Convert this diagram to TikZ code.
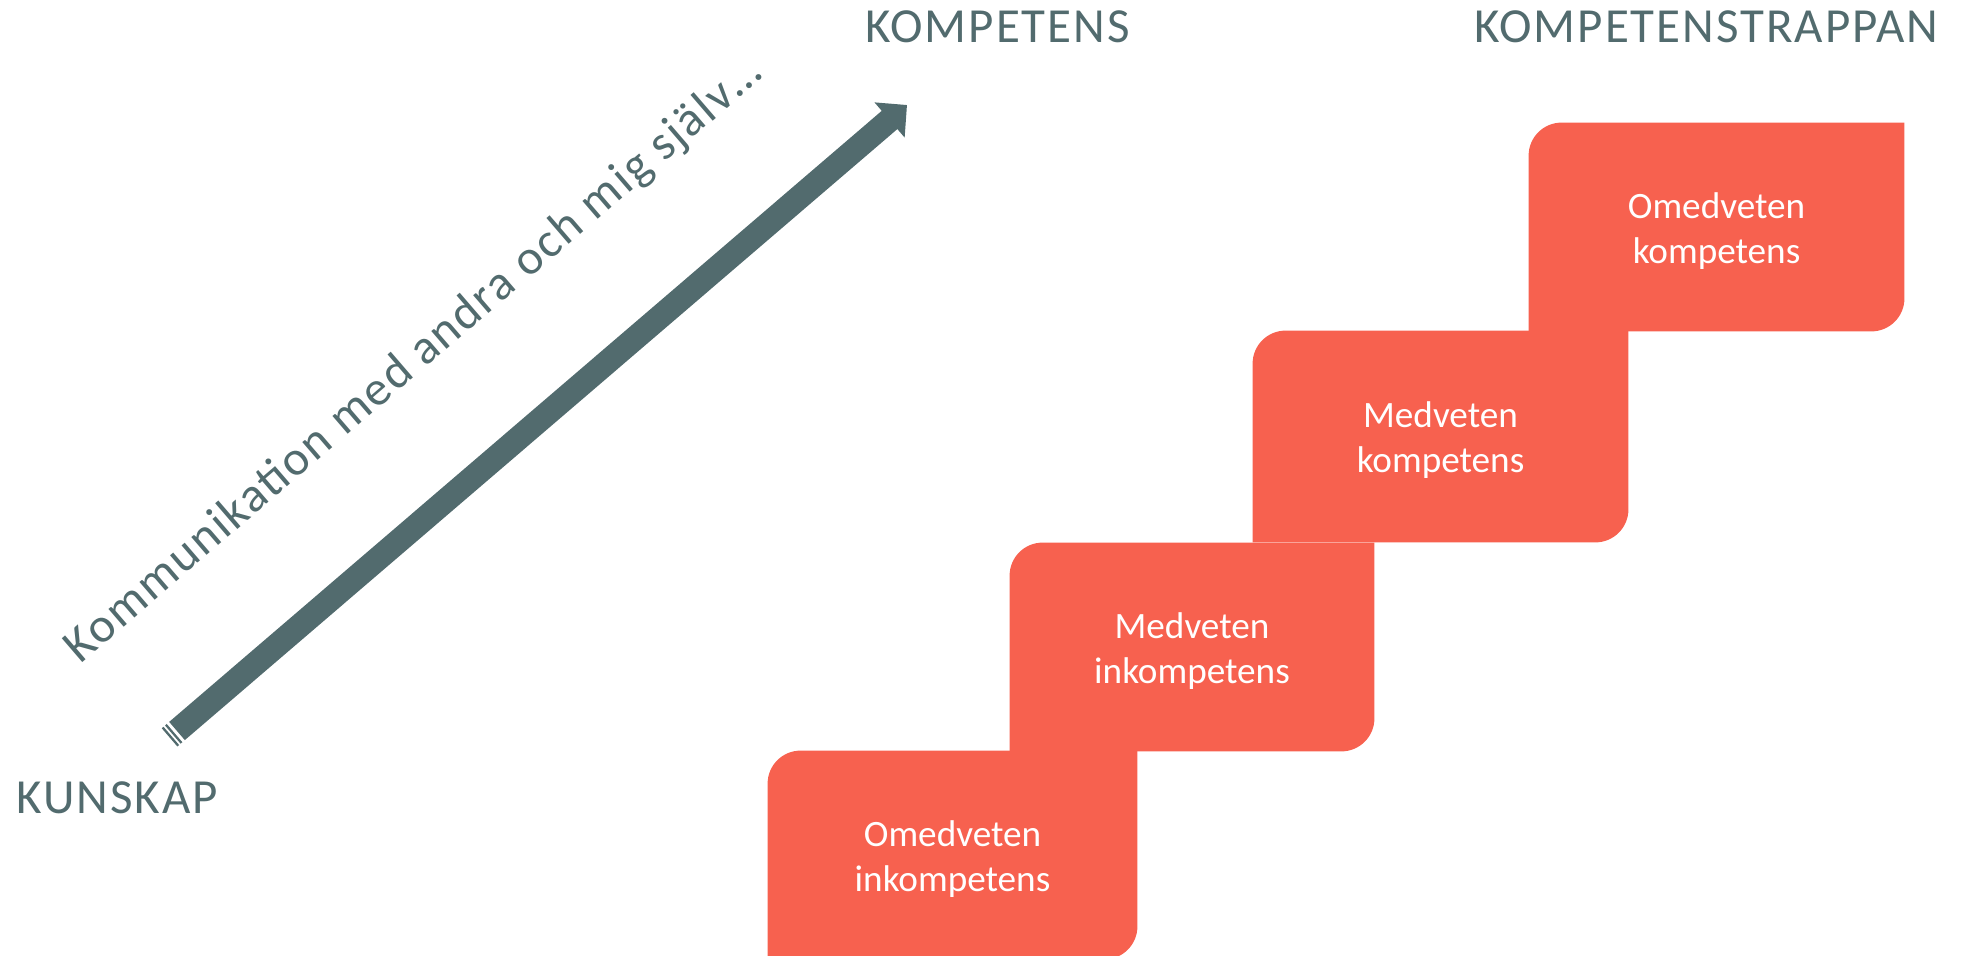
\documentclass[tikz,border=0pt]{standalone}
\usepackage{fontspec}
\setmainfont{Carlito}
\newfontfamily\headfont[LetterSpace=4]{Carlito}
\usetikzlibrary{arrows.meta,backgrounds}

\definecolor{slate}{RGB}{82,107,110}
\definecolor{coral}{RGB}{247,97,79}

% step fill: rounded top-left and bottom-right corners only
\newcommand\stairfill[1]{%
  \fill[coral] (#1.south west)
    -- ([yshift=-16.5pt]#1.north west)
    .. controls ([yshift=-7.39pt]#1.north west) and ([xshift=7.39pt]#1.north west) .. ([xshift=16.5pt]#1.north west)
    -- (#1.north east)
    -- ([yshift=16.5pt]#1.south east)
    .. controls ([yshift=7.39pt]#1.south east) and ([xshift=-7.39pt]#1.south east) .. ([xshift=-16.5pt]#1.south east)
    -- cycle;}

\tikzset{
  heading/.style={font=\headfont\fontsize{24.5pt}{29pt}\selectfont, text=slate, inner sep=0pt, anchor=base west},
  stairbox/.style={rectangle, inner sep=0pt, align=center, text=white,
    font=\fontsize{18.6pt}{22.5pt}\selectfont},
  stairtext/.style={align=center, text=white, inner sep=0pt,
    font=\fontsize{18.6pt}{22.5pt}\selectfont},
}

\begin{document}
\begin{tikzpicture}[x=0.5pt,y=0.5pt]
\useasboundingbox (0,0) rectangle (1970,955);

% headings
\node[heading] (kompetens) at (865,912) {KOMPETENS};
\node[heading] (trappan) at (1474,912) {KOMPETENSTRAPPAN};
\node[heading] (kunskap) at (16,142) {KUNSKAP};

% striped block arrow
\coordinate (tail) at (177,224);
\coordinate (tip) at (907,850);
\draw[slate, line width=12pt, -{Triangle[length=11.5pt,width=22.5pt]}] (tail) -- (tip);
\begin{scope}[shift={(tail)}, rotate=40.6]
  \fill[slate] (-5.5,-12) rectangle (-3.2,12);
  \fill[slate] (-9.8,-12) rectangle (-7.5,12);
\end{scope}

% caption along the arrow
\node[heading, rotate=40.7] (komm) at (80,290) {Kommunikation med andra och mig själv…};

% the four steps (empty frames, filled on the background layer)
\node[minimum width=184.5pt, minimum height=104pt, inner sep=0pt] (s1) at (952.5,100) {};
\node[minimum width=182pt, minimum height=104pt, inner sep=0pt] (s2) at (1192,308) {};
\node[minimum width=187.5pt, minimum height=105.5pt, inner sep=0pt] (s3) at (1440.5,518.5) {};
\node[minimum width=187.5pt, minimum height=104pt, inner sep=0pt] (s4) at (1716.5,728) {};

\node[stairtext] (t1) at ([yshift=-2pt]s1.center) {Omedveten\\inkompetens};
\node[stairtext] (t2) at ([yshift=-2pt]s2.center) {Medveten\\inkompetens};
\node[stairtext] (t3) at ([yshift=-2pt]s3.center) {Medveten\\kompetens};
\node[stairtext] (t4) at ([yshift=-2pt]s4.center) {Omedveten\\kompetens};

\begin{scope}[on background layer]
  \stairfill{s1}
  \stairfill{s2}
  \stairfill{s3}
  \stairfill{s4}
\end{scope}
\end{tikzpicture}
\end{document}
